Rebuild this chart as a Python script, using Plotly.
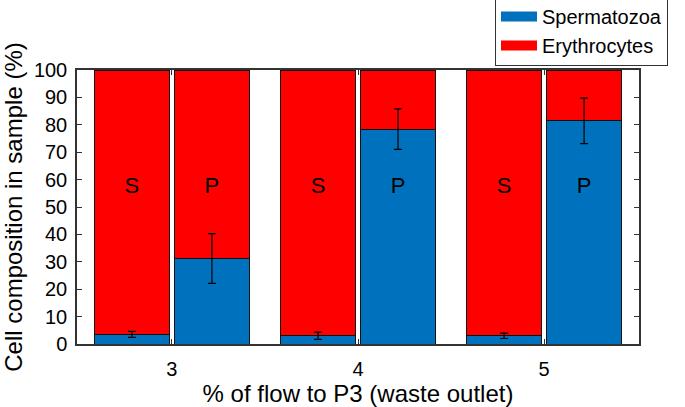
import plotly.graph_objects as go

# Data
flow_ticks = [3, 4, 5]
bar_x = [2.785, 3.215, 3.785, 4.215, 4.785, 5.215]
bar_labels = ["S", "P", "S", "P", "S", "P"]
spermatozoa = [3.5, 31.2, 3.0, 78.4, 3.0, 81.4]
sperm_err = [1.1, 9.1, 1.3, 7.4, 1.0, 8.3]
erythrocytes = [100 - v for v in spermatozoa]
series_names = ["Spermatozoa", "Erythrocytes"]

BLUE = "#0072BD"
RED = "#FF0000"
AXC = "#333333"
FONT = "Liberation Sans, Arial, sans-serif"

fig = go.Figure()
fig.add_trace(go.Bar(x=bar_x, y=spermatozoa, width=0.4, name=series_names[0], showlegend=False,
                     marker=dict(color=BLUE, line=dict(color="#111111", width=1))))
fig.add_trace(go.Bar(x=bar_x, y=erythrocytes, width=0.4, name=series_names[1], showlegend=False,
                     marker=dict(color=RED, line=dict(color="#111111", width=1))))
fig.add_trace(go.Scatter(x=bar_x, y=spermatozoa, mode="markers",
                         marker=dict(size=1, color="rgba(0,0,0,0)"),
                         error_y=dict(type="data", array=sperm_err, color="black",
                                      thickness=1.2, width=4),
                         showlegend=False, hoverinfo="skip"))
fig.add_trace(go.Scatter(x=bar_x, y=[57] * len(bar_x), mode="text", text=bar_labels,
                         textfont=dict(size=22, color="black", family=FONT),
                         showlegend=False, hoverinfo="skip"))
# legend proxies (wide swatches like the reference)
for nm, col in zip(series_names, [BLUE, RED]):
    fig.add_trace(go.Scatter(x=[None], y=[None], mode="lines", name=nm,
                             line=dict(color=col, width=14)))

fig.update_layout(
    width=685, height=407,
    barmode="stack",
    plot_bgcolor="white", paper_bgcolor="white",
    margin=dict(l=77, r=46, t=70, b=63, autoexpand=False),
    font=dict(family=FONT, size=20, color="black"),
    legend=dict(x=1.0516, xanchor="right", y=1.27, yanchor="top",
                traceorder="normal", bordercolor=AXC, borderwidth=1,
                bgcolor="white", font=dict(size=20), itemwidth=36,
                tracegroupgap=0),
    xaxis=dict(range=[2.49, 5.51], tickvals=flow_ticks, ticktext=[str(t) for t in flow_ticks],
               ticks="inside", ticklen=5, tickcolor=AXC, showline=True, linecolor=AXC,
               linewidth=1.5, mirror="ticks", showgrid=False, zeroline=False,
               ticklabelstandoff=6,
               title=dict(text="% of flow to P3 (waste outlet)", standoff=12),
               tickfont=dict(size=20)),
    yaxis=dict(range=[0, 100], tickvals=list(range(0, 101, 10)),
               ticks="inside", ticklen=5, tickcolor=AXC, showline=True, linecolor=AXC,
               linewidth=1.5, mirror="ticks", showgrid=False, zeroline=False,
               ticklabelstandoff=4,
               title=dict(text="Cell composition in sample (%)", standoff=6),
               tickfont=dict(size=20)),
)

fig.write_html("out.html", config={"displayModeBar": False},
               post_script="document.body.style.margin='0';")
